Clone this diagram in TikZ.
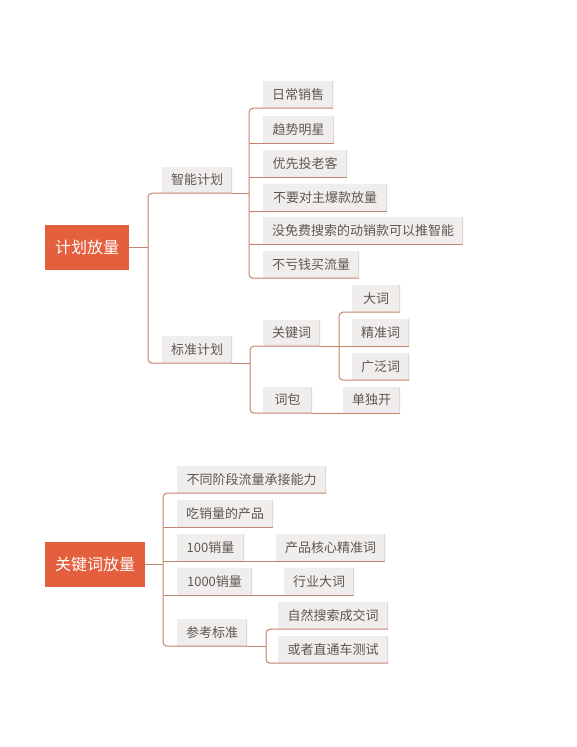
\documentclass[tikz,border=0pt]{standalone}
\usepackage{fontspec}
\newfontfamily\cjk{Noto Sans CJK SC}
\definecolor{boxfill}{HTML}{F0EEEC}
\definecolor{boxedge}{HTML}{DDD8D4}
\definecolor{linkc}{HTML}{C4836D}
\definecolor{rootc}{HTML}{E35F3D}
\definecolor{txt}{HTML}{5E5652}
\tikzset{
  box/.style={fill=boxfill, draw=none, inner sep=0pt, text=txt,
    font=\cjk\fontsize{13}{13}\selectfont,
    path picture={\draw[boxedge, line width=1.2pt] (path picture bounding box.north east) -- (path picture bounding box.south east);}},
  rootbox/.style={fill=rootc, draw=none, inner sep=0pt, text=white,
    font=\cjk\fontsize{16}{16}\selectfont},
  link/.style={draw=linkc, line width=1pt, rounded corners=4pt},
}
\newcommand{\bx}[7][box]{%
  \node[#1, minimum width={#5-#3}, minimum height={#6-#4}] (#2) at ({(#3+#5)/2},{(#4+#6)/2}) {#7};}
\begin{document}
\begin{tikzpicture}[x=1pt,y=-1pt]
\useasboundingbox (0,0) rectangle (576,747);
% top map
\bx[rootbox]{r1}{45}{225}{129}{270}{计划放量}
\bx{zn}{162}{167}{232}{193}{智能计划}
\bx{bz}{162}{336}{232}{363}{标准计划}
\bx{a1}{263}{81}{333}{108}{日常销售}
\bx{a2}{263}{116}{334}{143}{趋势明星}
\bx{a3}{263}{150}{347}{177}{优先投老客}
\bx{a4}{263}{184}{387}{211}{不要对主爆款放量}
\bx{a5}{263}{217}{463}{244}{没免费搜索的动销款可以推智能}
\bx{a6}{263}{251}{359}{278}{不亏钱买流量}
\bx{b1}{263}{320}{320}{346}{关键词}
\bx{b2}{263}{387}{312}{413}{词包}
\bx{c1}{352}{285}{400}{312}{大词}
\bx{c2}{352}{319}{409}{346}{精准词}
\bx{c3}{352}{353}{409}{380}{广泛词}
\bx{d1}{343}{387}{400}{413}{单独开}
\coordinate (t1) at (148,0);
\coordinate (v1) at (249,0);
\coordinate (v2) at (250,0);
\coordinate (v3) at (339,0);
\draw[link] (r1.east) -- (r1.east -| t1);
\draw[link] (zn.south east) -- (zn.south -| t1) -- (bz.south -| t1) -- (bz.south east);
\draw[link] (zn.south east) -- (zn.south -| v1);
\draw[link] (bz.south east) -- (bz.south -| v2);
\draw[link] (a1.south east) -- (a1.south -| v1) -- (a6.south -| v1) -- (a6.south east);
\draw[link] (a2.south -| v1) -- (a2.south east);
\draw[link] (a3.south -| v1) -- (a3.south east);
\draw[link] (a4.south -| v1) -- (a4.south east);
\draw[link] (a5.south -| v1) -- (a5.south east);
\draw[link] (b1.south east) -- (b1.south -| v2) -- (b2.south -| v2) -- (b2.south east);
\draw[link] (b1.south east) -- (c2.south east);
\draw[link] (c1.south east) -- (c1.south -| v3) -- (c3.south -| v3) -- (c3.south east);
\draw[link] (b2.south east) -- (d1.south east);
% bottom map
\bx[rootbox]{r2}{45}{542}{145}{587}{关键词放量}
\bx{e1}{177}{466}{326}{493}{不同阶段流量承接能力}
\bx{e2}{177}{500}{273}{527}{吃销量的产品}
\bx{e3}{177}{534}{244}{561}{100销量}
\bx{e4}{177}{568}{252}{595}{1000销量}
\bx{e5}{177}{619}{247}{646}{参考标准}
\bx{f3}{276}{534}{385}{561}{产品核心精准词}
\bx{f4}{284}{568}{354}{595}{行业大词}
\bx{g1}{278}{602}{388}{629}{自然搜索成交词}
\bx{g2}{278}{636}{388}{663}{或者直通车测试}
\coordinate (t2) at (163,0);
\coordinate (v4) at (266,0);
\draw[link] (r2.east) -- (r2.east -| t2);
\draw[link] (e1.south east) -- (e1.south -| t2) -- (e5.south -| t2) -- (e5.south east);
\draw[link] (e2.south -| t2) -- (e2.south east);
\draw[link] (e3.south -| t2) -- (f3.south east);
\draw[link] (e4.south -| t2) -- (f4.south east);
\draw[link] (e5.south east) -- (e5.south -| v4);
\draw[link] (g1.south east) -- (g1.south -| v4) -- (g2.south -| v4) -- (g2.south east);
\end{tikzpicture}
\end{document}
